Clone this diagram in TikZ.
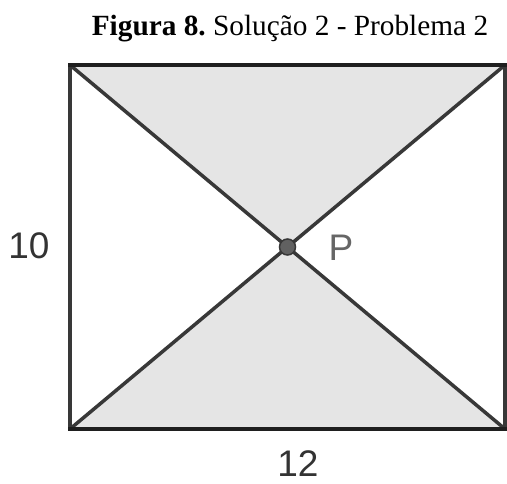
\documentclass[tikz,border=0pt]{standalone}
\usepackage{fontspec}
\setmainfont{Liberation Serif}
\newfontfamily\labelfont{Liberation Sans}
\begin{document}
\begin{tikzpicture}[x=1pt,y=-1pt,
  edgeline/.style={line width=4.5pt,color=black!88},
  sideline/.style={line width=4pt,color=black!78},
  diagline/.style={line width=3.5pt,color=black!78},
  shade/.style={fill=black!10},
  lbl/.style={font=\labelfont\fontsize{37}{40}\selectfont,inner sep=0pt},
  ptdot/.style={circle,minimum size=16pt,inner sep=0pt,fill=black!62,draw=black!78,line width=1.5pt}]
\useasboundingbox (0,0) rectangle (507,483);
\coordinate (TL) at (70,65);
\coordinate (TR) at (505,65);
\coordinate (BL) at (70,429);
\coordinate (BR) at (505,429);
\coordinate (C) at (287.5,247);
\node[font=\fontsize{29.3}{32}\selectfont,anchor=base,inner sep=0pt] (title) at (290,35) {\frenchspacing\textbf{Figura 8.} Solução 2 - Problema 2};
\fill[shade] (TL) -- (TR) -- (C) -- cycle;
\fill[shade] (BL) -- (BR) -- (C) -- cycle;
\draw[diagline] (TL) -- (BR);
\draw[diagline] (TR) -- (BL);
\draw[sideline] (TL) -- (BL);
\draw[sideline] (TR) -- (BR);
\draw[edgeline,line cap=rect] (TL) -- (TR);
\draw[edgeline,line cap=rect] (BL) -- (BR);
\node[ptdot] (P) at (C) {};
\node[lbl,text=black!60] (Plabel) at (341,247.5) {P};
\node[lbl,text=black!80] (h) at (29,246) {10};
\node[lbl,text=black!80] (w) at (298,463.5) {12};
\end{tikzpicture}
\end{document}
